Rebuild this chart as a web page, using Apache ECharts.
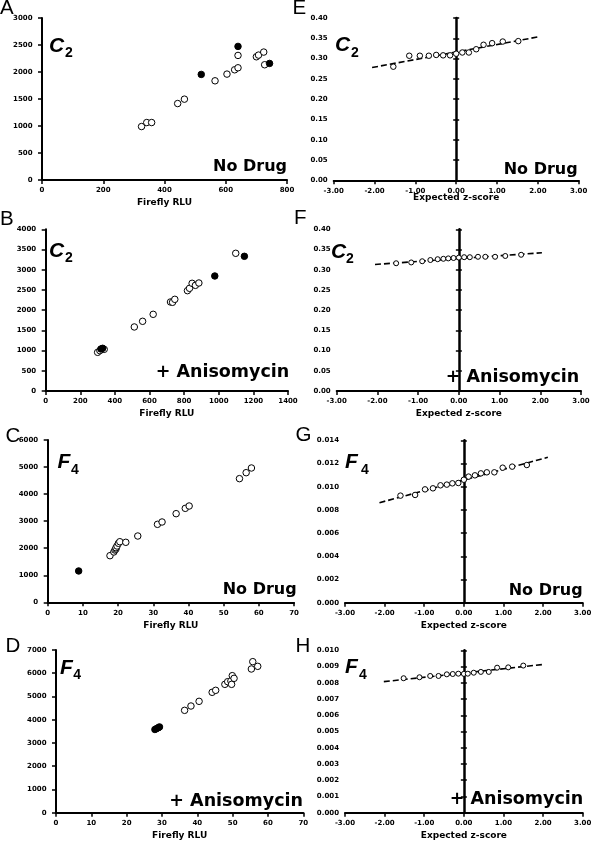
<!DOCTYPE html>
<html><head><meta charset="utf-8">
<script src="https://cdn.jsdelivr.net/npm/echarts@6/dist/echarts.min.js"></script>
<style>html,body{margin:0;padding:0;background:#fff}#c{width:592px;height:842px}</style>
</head><body><div id="c"></div>
<script>
// ---- Panel A: C2, No Drug (Firefly RLU vs Renilla) ----
const aOpen = [[325,990],[342,1064],[358,1064],[443,1416],[465,1497],[565,1837],[604,1961],[629,2041],[640,2078],[640,2307],[700,2282],[707,2313],[724,2369],[727,2134]];
const aFilled = [[520,1955],[640,2474],[743,2159]];
// ---- Panel B: C2, + Anisomycin ----
const bOpen = [[300,957],[313,998],[338,1031],[512,1584],[560,1724],[621,1897],[721,2202],[733,2194],[746,2268],[819,2482],[831,2540],[846,2664],[865,2614],[885,2672],[1098,3406]];
const bFilled = [[319,1039],[329,1056],[977,2845],[1148,3332]];
// ---- Panel C: F4, No Drug ----
const cOpen = [[17.7,1723],[18.8,1860],[19.1,1933],[19.4,1970],[19.4,2018],[19.7,2081],[20.1,2181],[20.5,2240],[22.2,2218],[25.6,2451],[31.2,2883],[32.5,2969],[36.5,3277],[39.1,3474],[40.2,3560],[54.5,4571],[56.4,4792],[57.9,4965]];
const cFilled = [[8.8,1158]];
// ---- Panel D: F4, + Anisomycin ----
const dOpen = [[36.4,4404],[38.2,4590],[40.5,4791],[44.2,5179],[45.2,5265],[47.8,5523],[48.6,5637],[49.5,5666],[49.9,5896],[49.7,5523],[50.4,5781],[55.3,6183],[55.7,6498],[57.1,6297]];
const dFilled = [[28.0,3580],[28.5,3620],[29.0,3660],[29.3,3690]];
// ---- Panel E: C2 ratio vs expected z-score, No Drug ----
const eZ = [-1.54,-1.15,-0.89,-0.67,-0.49,-0.32,-0.15,0.00,0.15,0.31,0.49,0.67,0.88,1.14,1.52];
const eR = [0.280,0.307,0.307,0.307,0.309,0.308,0.308,0.312,0.315,0.315,0.323,0.334,0.338,0.342,0.343];
const eFit = [[-2.06,0.278],[2.04,0.354]];
// ---- Panel F: C2, + Anisomycin ----
const fZ = [-1.54,-1.17,-0.90,-0.70,-0.52,-0.38,-0.26,-0.13,0.00,0.13,0.27,0.47,0.65,0.89,1.14,1.53];
const fR = [0.316,0.318,0.321,0.324,0.326,0.327,0.328,0.329,0.330,0.331,0.331,0.332,0.332,0.332,0.334,0.337];
const fFit = [[-2.06,0.313],[2.04,0.342]];
// ---- Panel G: F4, No Drug ----
const gZ = [-1.60,-1.23,-0.98,-0.78,-0.59,-0.43,-0.29,-0.14,0.00,0.12,0.28,0.43,0.58,0.77,0.98,1.22,1.59];
const gR = [0.00923,0.00929,0.00977,0.00986,0.01012,0.01018,0.01029,0.01032,0.01060,0.01087,0.01098,0.01115,0.01124,0.01124,0.01164,0.01173,0.01187];
const gFit = [[-2.13,0.00862],[2.12,0.01253]];
// ---- Panel H: F4, + Anisomycin ----
const hZ = [-1.52,-1.12,-0.85,-0.64,-0.43,-0.28,-0.14,0.00,0.10,0.25,0.43,0.63,0.84,1.12,1.50];
const hR = [0.00828,0.00834,0.00842,0.00842,0.00852,0.00854,0.00856,0.00855,0.00856,0.00862,0.00867,0.00867,0.00893,0.00895,0.00906];
const hFit = [[-2.02,0.00807],[1.97,0.00912]];

const zip = (a,b) => a.map((v,i)=>[v,b[i]]);

const chart = echarts.init(document.getElementById('c'), null, {renderer:'canvas'});
const grids = [
  {left:42, top:18, width:245, height:162},
  {left:45.7, top:229.3, width:242.3, height:161.7},
  {left:47.7, top:440, width:246.3, height:162.3},
  {left:56, top:650, width:247.3, height:162.7},
  {left:333.7, top:18, width:245, height:162.3},
  {left:336.7, top:229.3, width:244.3, height:161.7},
  {left:345, top:440.3, width:237.7, height:162.4},
  {left:345, top:650.3, width:237.7, height:162.4}
].map(g => Object.assign({containLabel:false, outerBoundsMode:'none', show:false}, g));

const lab = {fontFamily:'DejaVu Sans', fontWeight:'bold', fontSize:7, color:'#000'};
const nameStyle = {fontFamily:'DejaVu Sans', fontWeight:'bold', fontSize:9, color:'#000'};
function xAx(i, min, max, interval, fmt, name, gap){
  return {gridIndex:i, type:'value', min, max, interval, name, nameLocation:'middle', nameGap:gap, nameMoveOverlap:false,
    nameTextStyle:nameStyle,
    axisLine:{show:true, onZero:false, lineStyle:{color:'#000', width:2}},
    axisTick:{show:true, length:4, lineStyle:{color:'#000', width:1.5}},
    axisLabel:Object.assign({margin:7, formatter:fmt, hideOverlap:false, showMinLabel:true, showMaxLabel:true}, lab),
    splitLine:{show:false}};
}
function yAxLeft(i, min, max, interval, fmt){
  return {gridIndex:i, type:'value', min, max, interval, position:'left',
    axisLine:{show:true, onZero:false, lineStyle:{color:'#000', width:2}},
    axisTick:{show:true, length:4, lineStyle:{color:'#000', width:1.5}},
    axisLabel:Object.assign({margin:9.5, formatter:fmt, hideOverlap:false, showMinLabel:true, showMaxLabel:true}, lab),
    splitLine:{show:false}};
}
function yAxLabels(i, min, max, interval, fmt){
  return {gridIndex:i, type:'value', min, max, interval, position:'left',
    axisLine:{show:false, onZero:false}, axisTick:{show:false},
    axisLabel:Object.assign({margin:6, formatter:fmt, hideOverlap:false, showMinLabel:true, showMaxLabel:true}, lab),
    splitLine:{show:false}};
}
function yAxCenter(i, min, max, interval, pos, showLine){
  return {gridIndex:i, type:'value', min, max, interval, position:pos, offset:-grids[i].width/2,
    axisLine:{show:showLine, onZero:false, lineStyle:{color:'#000', width:2.5}},
    axisTick:{show:true, length:3, lineStyle:{color:'#000', width:1.5}},
    axisLabel:{show:false}, splitLine:{show:false}};
}
const intF = v => String(v);
const f2 = v => v.toFixed(2);
const f3 = v => v.toFixed(3);

const xAxis = [
  xAx(0,0,800,200,intF,'Firefly RLU',18.5),
  xAx(1,0,1400,200,intF,'Firefly RLU',18.5),
  xAx(2,0,70,10,intF,'Firefly RLU',18.5),
  xAx(3,0,70,10,intF,'Firefly RLU',18.5),
  xAx(4,-3,3,1,f2,'Expected z-score',13),
  xAx(5,-3,3,1,f2,'Expected z-score',18.5),
  xAx(6,-3,3,1,f2,'Expected z-score',18.5),
  xAx(7,-3,3,1,f2,'Expected z-score',18.5)
];
const yAxis = [
  yAxLeft(0,0,3000,500,intF),
  yAxLeft(1,0,4000,500,intF),
  yAxLeft(2,0,6000,1000,intF),
  yAxLeft(3,0,7000,1000,intF)
];
const rightSpec = [[4,0,0.40,0.05,f2],[5,0,0.40,0.05,f2],[6,0,0.014,0.002,f3],[7,0,0.010,0.001,f3]];
const rightYIdx = [];
rightSpec.forEach(s => {
  rightYIdx.push(yAxis.length);
  yAxis.push(yAxLabels(s[0],s[1],s[2],s[3],s[4]));
  yAxis.push(yAxCenter(s[0],s[1],s[2],s[3],'left',true));
  yAxis.push(yAxCenter(s[0],s[1],s[2],s[3],'right',false));
});

function openS(xi, yi, data, size){
  return {type:'scatter', xAxisIndex:xi, yAxisIndex:yi, data, symbol:'circle', symbolSize:size, z:5,
    itemStyle:{color:'#fff', borderColor:'#000', borderWidth:1, opacity:1}, silent:true};
}
function fillS(xi, yi, data, size){
  return {type:'scatter', xAxisIndex:xi, yAxisIndex:yi, data, symbol:'circle', symbolSize:size, z:6,
    itemStyle:{color:'#000', borderColor:'#000', borderWidth:1, opacity:1}, silent:true};
}
function fitS(xi, yi, data){
  return {type:'line', xAxisIndex:xi, yAxisIndex:yi, data, symbol:'none', showSymbol:false, z:3, silent:true,
    lineStyle:{color:'#000', width:1.6, type:[6,3]}};
}
const series = [
  openS(0,0,aOpen,6.5), fillS(0,0,aFilled,6.5),
  openS(1,1,bOpen,6.5), fillS(1,1,bFilled,6.5),
  openS(2,2,cOpen,6.5), fillS(2,2,cFilled,6.5),
  openS(3,3,dOpen,6.5), fillS(3,3,dFilled,6.5),
  fitS(4,rightYIdx[0],eFit), openS(4,rightYIdx[0],zip(eZ,eR),5.5),
  fitS(5,rightYIdx[1],fFit), openS(5,rightYIdx[1],zip(fZ,fR),5),
  fitS(6,rightYIdx[2],gFit), openS(6,rightYIdx[2],zip(gZ,gR),5.5),
  fitS(7,rightYIdx[3],hFit), openS(7,rightYIdx[3],zip(hZ,hR),5)
];

function txt(x, y, text, font, align){
  return {type:'text', x, y, z:100, silent:true,
    style:{text, font, fill:'#000', textAlign:align||'left', textVerticalAlign:'middle'}};
}
const letterFont = '20.5px "Liberation Sans"';
const bigFont = 'italic bold 21px "Liberation Sans"';
const subFont = 'bold 14px "Liberation Sans"';
const condFont = 'bold 16px "DejaVu Sans"';
const anisoFont = 'bold 17.5px "DejaVu Sans"';
const graphic = [
  txt(0,8.5,'A',letterFont), txt(0,219.5,'B',letterFont), txt(5.5,436,'C',letterFont), txt(5.5,646.5,'D',letterFont),
  txt(292.5,8.5,'E',letterFont), txt(294,218,'F',letterFont), txt(295.5,435.5,'G',letterFont), txt(295.5,646,'H',letterFont),
  txt(49,46.3,'C',bigFont), txt(65,53,'2',subFont),
  txt(49,251.3,'C',bigFont), txt(65,258,'2',subFont),
  txt(57.5,462,'F',bigFont), txt(71,470,'4',subFont),
  txt(60,668,'F',bigFont), txt(73.3,675,'4',subFont),
  txt(335,45.5,'C',bigFont), txt(351,53,'2',subFont),
  txt(331,252,'C',bigFont), txt(346,259,'2',subFont),
  txt(345,462.5,'F',bigFont), txt(361,470,'4',subFont),
  txt(345,667.5,'F',bigFont), txt(359,675,'4',subFont),
  txt(287,166.8,'No Drug',condFont,'right'),
  txt(289.3,372.3,'+ Anisomycin',anisoFont,'right'),
  txt(296.7,589.7,'No Drug',condFont,'right'),
  txt(303,801.7,'+ Anisomycin',anisoFont,'right'),
  txt(577.7,169.5,'No Drug',condFont,'right'),
  txt(579.3,377.8,'+ Anisomycin',anisoFont,'right'),
  txt(582.7,591.3,'No Drug',condFont,'right'),
  txt(583.3,799.7,'+ Anisomycin',anisoFont,'right')
];

chart.setOption({
  animation:false,
  backgroundColor:'#fff',
  grid:grids, xAxis, yAxis, series, graphic
});
</script>
</body></html>
